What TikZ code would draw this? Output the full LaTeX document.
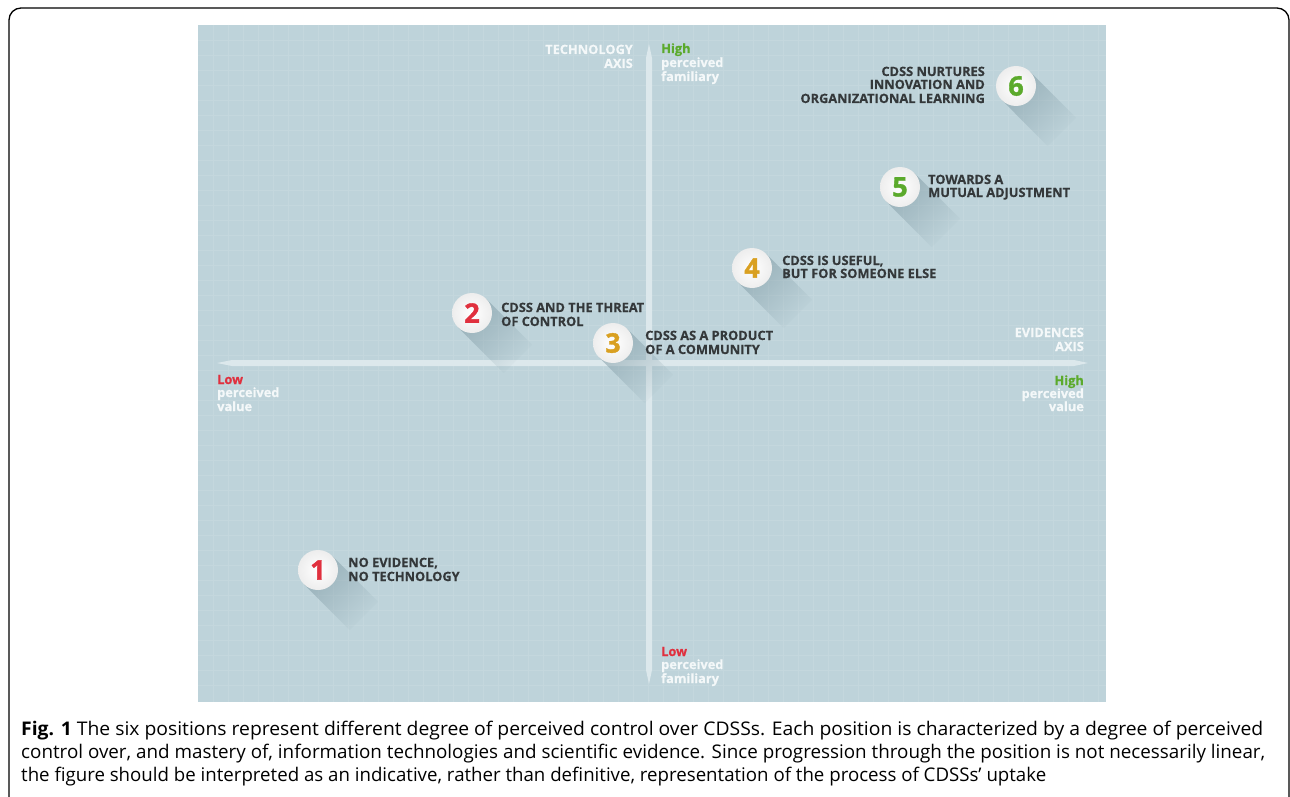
\documentclass[tikz,border=0pt]{standalone}
\usepackage{fontspec}
\usepackage{graphicx}
\setmainfont{Open Sans}
\newfontfamily\heavyfont[BoldFeatures={FakeBold=1.2}]{Open Sans}
\newfontfamily\lblfont[BoldFeatures={FakeBold=0.5}]{Open Sans}
\usetikzlibrary{calc,fadings}
\definecolor{panel}{HTML}{BED3DA}
\definecolor{gridc}{HTML}{C4D7DD}
\definecolor{axisc}{HTML}{DCE8EC}
\definecolor{txt}{HTML}{34383A}
\definecolor{redn}{HTML}{E0303E}
\definecolor{goldn}{HTML}{D9A021}
\definecolor{greenn}{HTML}{5BAA2C}
\definecolor{shadowc}{HTML}{7E99A3}
\definecolor{axtxt}{HTML}{F4F8F9}
\tikzfading[name=shadowfade, top color=transparent!40, bottom color=transparent!100]
\tikzset{
  gridline/.style={gridc, line width=0.8pt},
  axisbar/.style={fill=axisc, draw=none},
  numcircle/.style={circle, minimum size=40pt, inner sep=0pt, shading=radial,
    inner color=white, outer color=black!7, font=\fontsize{27}{27}\heavyfont\bfseries},
  lbl/.style={anchor=base west, inner sep=0pt, text=txt, font=\fontsize{12.8}{14}\lblfont\bfseries},
  lblr/.style={lbl, anchor=base east},
  axl/.style={anchor=base west, inner sep=0pt, text=axtxt, font=\fontsize{12.8}{14}\lblfont\bfseries},
  axlr/.style={axl, anchor=base east},
  captext/.style={anchor=base west, inner sep=0pt, text=black, font=\fontsize{18.8}{22}\selectfont},
  outerframe/.style={line width=1.3pt, rounded corners=12pt}
}
\begin{document}
\begin{tikzpicture}[x=1pt,y=-1pt]
\useasboundingbox (0,0) rectangle (1290,797);
\fill[white] (0,0) rectangle (1290,797);
\draw[outerframe] (9,800) -- (9,8) -- (1289,8) -- (1289,800);
% panel
\fill[panel] (198,25) rectangle (1106,702);
\foreach \gx in {213,228,...,1098} \draw[gridline] (\gx,25) -- (\gx,702);
\foreach \gy in {40,55,...,695} \draw[gridline] (198,\gy) -- (1106,\gy);
% axes
\fill[axisbar] (649,44) -- (652,58) -- (652,670) -- (649,684) -- (646,670) -- (646,58) -- cycle;
\fill[axisbar] (217,363) -- (232,360) -- (1074,360) -- (1088,363) -- (1074,366) -- (232,366) -- cycle;
% markers
\foreach \n/\cx/\cy/\col in {1/318/570/redn, 2/472/313/redn, 3/613/343/goldn, 4/752/268/goldn, 5/900/187/greenn, 6/1016/86/greenn}{
  \coordinate (c\n) at (\cx,\cy);
  \fill[shadowc, path fading=shadowfade, fading angle=45]
    ($(c\n)+(14.14,-14.14)$) -- ($(c\n)+(60.1,31.8)$) -- ($(c\n)+(31.8,60.1)$) -- ($(c\n)+(-14.14,14.14)$) -- cycle;
  \node[numcircle, text=\col] (n\n) at (c\n) {\n};
}
% position labels
\node[lbl] (t1a) at (348,567) {NO EVIDENCE,};
\node[lbl] (t1b) at (348,581) {NO TECHNOLOGY};
\node[lbl] (t2a) at (501,312) {CDSS AND THE THREAT};
\node[lbl] (t2b) at (501,326) {OF CONTROL};
\node[lbl] (t3a) at (645,340) {CDSS AS A PRODUCT};
\node[lbl] (t3b) at (645,354) {OF A COMMUNITY};
\node[lbl] (t4a) at (782,265) {CDSS IS USEFUL,};
\node[lbl] (t4b) at (782,278) {BUT FOR SOMEONE ELSE};
\node[lbl] (t5a) at (928,184) {TOWARDS A};
\node[lbl] (t5b) at (928,197) {MUTUAL ADJUSTMENT};
\node[lblr] (t6a) at (985,76) {CDSS NURTURES};
\node[lblr] (t6b) at (985,89) {INNOVATION AND};
\node[lblr] (t6c) at (985,103) {ORGANIZATIONAL LEARNING};
% axis labels
\node[axlr] (ta1) at (633,54) {TECHNOLOGY};
\node[axlr] (ta2) at (633,68) {AXIS};
\node[axl, text=greenn] (th1) at (661,53) {High};
\node[axl] (th2) at (661,67) {perceived};
\node[axl] (th3) at (661,81) {familiary};
\node[axlr] (ea1) at (1084,337) {EVIDENCES};
\node[axlr] (ea2) at (1084,351) {AXIS};
\node[axlr, text=greenn] (eh1) at (1084,385) {High};
\node[axlr] (eh2) at (1084,398) {perceived};
\node[axlr] (eh3) at (1084,411) {value};
\node[axl, text=redn] (el1) at (217,384) {Low};
\node[axl] (el2) at (217,397) {perceived};
\node[axl] (el3) at (217,411) {value};
\node[axl, text=redn] (bl1) at (661,656) {Low};
\node[axl] (bl2) at (661,669) {perceived};
\node[axl] (bl3) at (661,683) {familiary};
% caption
\node[captext] (cap1) at (21,735) {\resizebox{1242pt}{\height}{\textbf{Fig. 1} The six positions represent different degree of perceived control over CDSSs. Each position is characterized by a degree of perceived}};
\node[captext] (cap2) at (21,758) {\resizebox{1244pt}{\height}{control over, and mastery of, information technologies and scientific evidence. Since progression through the position is not necessarily linear,}};
\node[captext] (cap3) at (21,781) {\resizebox{1025pt}{\height}{the figure should be interpreted as an indicative, rather than definitive, representation of the process of CDSSs’ uptake}};
\end{tikzpicture}
\end{document}
